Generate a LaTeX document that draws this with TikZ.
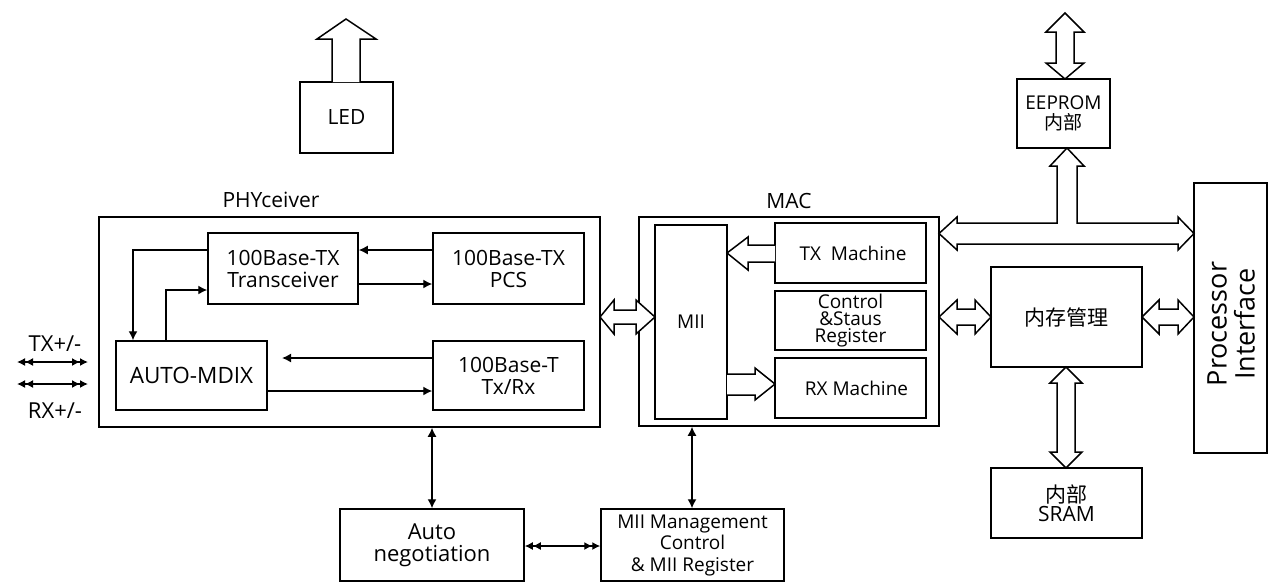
\documentclass[tikz,border=0pt]{standalone}
\usepackage{fontspec}
\setmainfont{Open Sans}
\newfontfamily\cjk{Noto Sans CJK SC}
\usetikzlibrary{arrows.meta}
\newcommand\fsz[2]{\fontsize{#1}{#2}\selectfont}
% \bx[opts]{x1}{y1}{x2}{y2}{name}{text}
\newcommand\bx[7][]{\node[box,#1,minimum width={(#4-#2)*1pt},minimum height={(#5-#3)*1pt}]
  (#6) at ({(#2+#4)/2},{(#3+#5)/2}) {#7};}
\begin{document}
\begin{tikzpicture}[x=1pt,y=-1pt,
  box/.style={draw, line width=1.5pt, inner sep=0pt, align=center, font=\fsz{21}{22}},
  lbl/.style={inner sep=0pt, align=center, font=\fsz{21}{22}},
  conn/.style={line width=1.4pt, -{Latex[length=9pt,width=9pt]}},
  both/.style={line width=1.4pt, {Latex[length=9pt,width=9pt]}-{Latex[length=9pt,width=9pt]}},
  dbl/.style={line width=1.4pt, {Latex[length=8pt,width=8pt] Latex[length=8pt,width=8pt]}-{Latex[length=8pt,width=8pt] Latex[length=8pt,width=8pt]}},
  blk/.style={draw, line width=1.5pt, fill=white, line join=miter}]
\useasboundingbox (0,0) rectangle (1284,584);

% outer groups
\bx{99}{217}{600}{427}{phy}{}
\bx{639}{217}{939}{426}{mac}{}
\node[lbl] (phyT) at (271,200) {PHYceiver};
\node[lbl] (macT) at (789,201) {MAC};

% PHY blocks
\bx{208}{233}{358}{304}{trx}{100Base-TX\\Transceiver}
\bx{433}{233}{584}{304}{pcs}{100Base-TX\\PCS}
\bx[font=\fsz{22.5}{23}]{116}{341}{267}{410}{mdix}{AUTO-MDIX}
\bx{433}{341}{584}{410}{tbt}{100Base-T\\Tx/Rx}

% MAC blocks
\bx[font=\fsz{19}{20}]{655}{225}{727}{419}{mii}{MII}
\bx[font=\fsz{19}{20}]{775}{223}{926}{283}{txm}{\hspace*{5pt}TX\ \ Machine}
\bx[font=\fsz{19}{16.7}]{775}{291}{926}{350}{ctl}{Control\\\&Staus\\Register}
\bx[font=\fsz{19}{20}]{775}{358}{926}{418}{rxm}{\hspace*{12pt}RX Machine}

% right side
\bx{991}{267}{1142}{367}{mem}{{\cjk 内存管理}}
\bx{1194}{183}{1267}{453}{proc}{}
\node[lbl, font=\fsz{27}{28}, rotate=90] (procT) at (1231,324) {Processor\\Interface};
\bx[font=\fsz{19}{20}]{1017}{79}{1110}{148}{eep}{EEPROM\\{\cjk 内部}}
\bx[font=\fsz{21}{19.5}]{991}{468}{1142}{538}{sram}{{\cjk 内部}\\SRAM}
\bx{300}{82}{393}{153}{led}{LED}

% bottom
\bx[font=\fsz{22}{22.5}]{340}{509}{524}{581}{auto}{Auto\\negotiation}
\bx[font=\fsz{19}{21.5}]{601}{509}{784}{581}{mgmt}{MII Management\\Control\\\& MII Register}

% side labels
\node[lbl, font=\fsz{22}{22}] (txT) at (55,344) {TX+/-};
\node[lbl, font=\fsz{22}{22}] (rxT) at (55,411) {RX+/-};

% thin connectors
\draw[conn] (pcs.west |- 0,250) -- (trx.east |- 0,250);
\draw[conn] (trx.east |- 0,284) -- (pcs.west |- 0,284);
\draw[conn] (trx.west |- 0,250) -| (mdix.north -| 133,0);
\draw[conn] (mdix.north -| 166,0) |- (trx.west |- 0,290);
\coordinate (mdixIn) at (282,358);
\draw[conn] (tbt.west |- 0,358) -- (mdixIn);
\draw[conn] (mdix.east |- 0,391) -- (tbt.west |- 0,391);
\coordinate (txL) at (17,362); \coordinate (txR) at (88,362);
\coordinate (rxL) at (17,384); \coordinate (rxR) at (88,384);
\draw[dbl] (txL) -- (txR);
\draw[dbl] (rxL) -- (rxR);
\draw[both] (phy.south -| 432,0) -- (auto.north -| 432,0);
\draw[both] (mac.south -| 692,0) -- (mgmt.north -| 692,0);
\draw[dbl] (auto.east |- 0,546) -- (mgmt.west |- 0,546);

% block arrows
\draw[blk] (332,82) -- (332,39) -- (317,39) -- (346,19) -- (376,39) -- (360,39) -- (360,82);
\draw[blk] (1065,13) -- (1084,32) -- (1074,32) -- (1074,63) -- (1084,63) -- (1065,79)
  -- (1046,63) -- (1056,63) -- (1056,32) -- (1046,32) -- cycle;
\draw[blk] (939,233.5) -- (957,217) -- (957,223) -- (1057,223) -- (1057,166) -- (1050,166)
  -- (1067,148) -- (1084,166) -- (1077,166) -- (1077,223) -- (1178,223) -- (1178,217)
  -- (1194,233.5) -- (1178,250) -- (1178,244) -- (957,244) -- (957,250) -- cycle;
\draw[blk] (600,317) -- (614,300) -- (614,310) -- (636,310) -- (636,300) -- (655,317)
  -- (636,334) -- (636,324) -- (614,324) -- (614,334) -- cycle;
\draw[blk] (939,317) -- (957,300) -- (957,309) -- (975,309) -- (975,300) -- (991,317)
  -- (975,334) -- (975,325) -- (957,325) -- (957,334) -- cycle;
\draw[blk] (1142,317) -- (1159,300) -- (1159,309) -- (1178,309) -- (1178,300) -- (1194,317)
  -- (1178,334) -- (1178,325) -- (1159,325) -- (1159,334) -- cycle;
\draw[blk] (775,245) -- (748,245) -- (748,237) -- (727,253) -- (748,270) -- (748,262) -- (775,262);
\draw[blk] (727,374) -- (755,374) -- (755,368) -- (775,384) -- (755,400) -- (755,395) -- (727,395);
\draw[blk] (1066,367) -- (1082,383) -- (1075,383) -- (1075,452) -- (1082,452) -- (1066,468)
  -- (1050,452) -- (1057,452) -- (1057,383) -- (1050,383) -- cycle;
\end{tikzpicture}
\end{document}
